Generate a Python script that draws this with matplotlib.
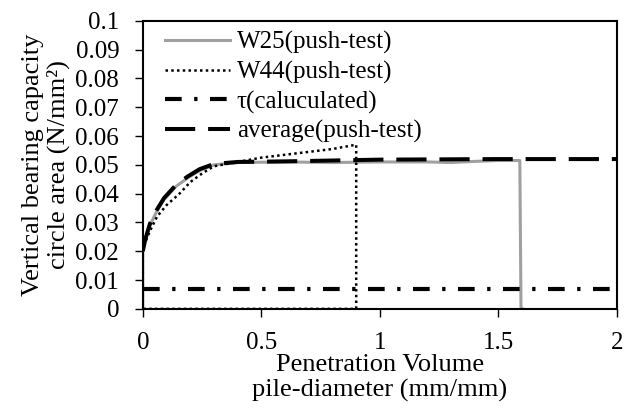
import matplotlib.pyplot as plt

plt.rcParams['font.family'] = ['Liberation Serif', 'DejaVu Serif']

# W25 push-test (gray solid)
w25_x = [0, 0, 0.01, 0.03, 0.06, 0.09, 0.14, 0.19, 0.24, 0.30, 0.4, 0.6, 0.8, 1.0,
         1.2, 1.3, 1.4, 1.5, 1.59, 1.595, 1.6]
w25_y = [0, 0.020, 0.024, 0.029, 0.034, 0.038, 0.0425, 0.0455, 0.048, 0.050, 0.0508,
         0.0510, 0.0508, 0.0510, 0.0510, 0.0508, 0.0512, 0.0515, 0.0515, 0.0, 0.0]

# W44 push-test (dotted)
w44_x = [0, 0, 0.01, 0.03, 0.06, 0.10, 0.155, 0.20, 0.25, 0.30, 0.4, 0.5, 0.6, 0.7,
         0.8, 0.9, 0.9, 0.0]
w44_y = [0, 0.020, 0.023, 0.027, 0.032, 0.036, 0.040, 0.044, 0.047, 0.0495, 0.051,
         0.0525, 0.0535, 0.0545, 0.0555, 0.057, 0.0, 0.0]

# tau (calculated)
tau_x = [0, 2]
tau_y = [0.007, 0.007]

# average push-test
avg_x = [0, 0.01, 0.03, 0.06, 0.09, 0.14, 0.19, 0.24, 0.30, 0.4, 0.6, 1.0, 1.5, 2.0]
avg_y = [0.020, 0.024, 0.0295, 0.0345, 0.0385, 0.043, 0.046, 0.0485, 0.0503, 0.051,
         0.0512, 0.0518, 0.052, 0.052]

fig = plt.figure(figsize=(6.29, 4.08), dpi=100)
ax = fig.add_axes([0.227, 0.243, 0.754, 0.706])

ax.plot(w25_x, w25_y, color='#a0a0a0', lw=2.2, label='W25(push-test)')
ax.plot(w44_x, w44_y, color='black', lw=1.8, linestyle=(0, (1, 1.3)), label='W44(push-test)')
ax.plot(tau_x, tau_y, color='black', lw=3, linestyle=(0, (4, 3, 0.8, 3)), label='τ(caluculated)')
ax.plot(avg_x, avg_y, color='black', lw=2.9, linestyle=(0, (7.5, 3.2)), label='average(push-test)')

ax.set_xlim(0, 2)
ax.set_ylim(0, 0.1)
ax.set_xticks([0, 0.5, 1, 1.5, 2])
ax.set_xticklabels(['0', '0.5', '1', '1.5', '2'])
ax.set_yticks([i / 100 for i in range(11)])
ax.set_yticklabels(['0'] + ['%.2f' % (i / 100) for i in range(1, 10)] + ['0.1'])
ax.tick_params(labelsize=18, direction='out', length=6, width=1, pad=11)
for s in ax.spines.values():
    s.set_linewidth(1.5)

ax.set_xlabel('Penetration Volume\npile-diameter (mm/mm)', fontsize=19, linespacing=1.12, labelpad=0)
ax.set_ylabel('Vertical bearing capacity\ncircle area (N/mm²)', fontsize=19, linespacing=1.12, labelpad=4)

ax.legend(loc='upper left', frameon=False, fontsize=18, handlelength=2.6,
          labelspacing=0.27, handletextpad=0.28, borderaxespad=0.0,
          bbox_to_anchor=(0.025, 1.0))

fig.savefig('out.png', dpi=100)
